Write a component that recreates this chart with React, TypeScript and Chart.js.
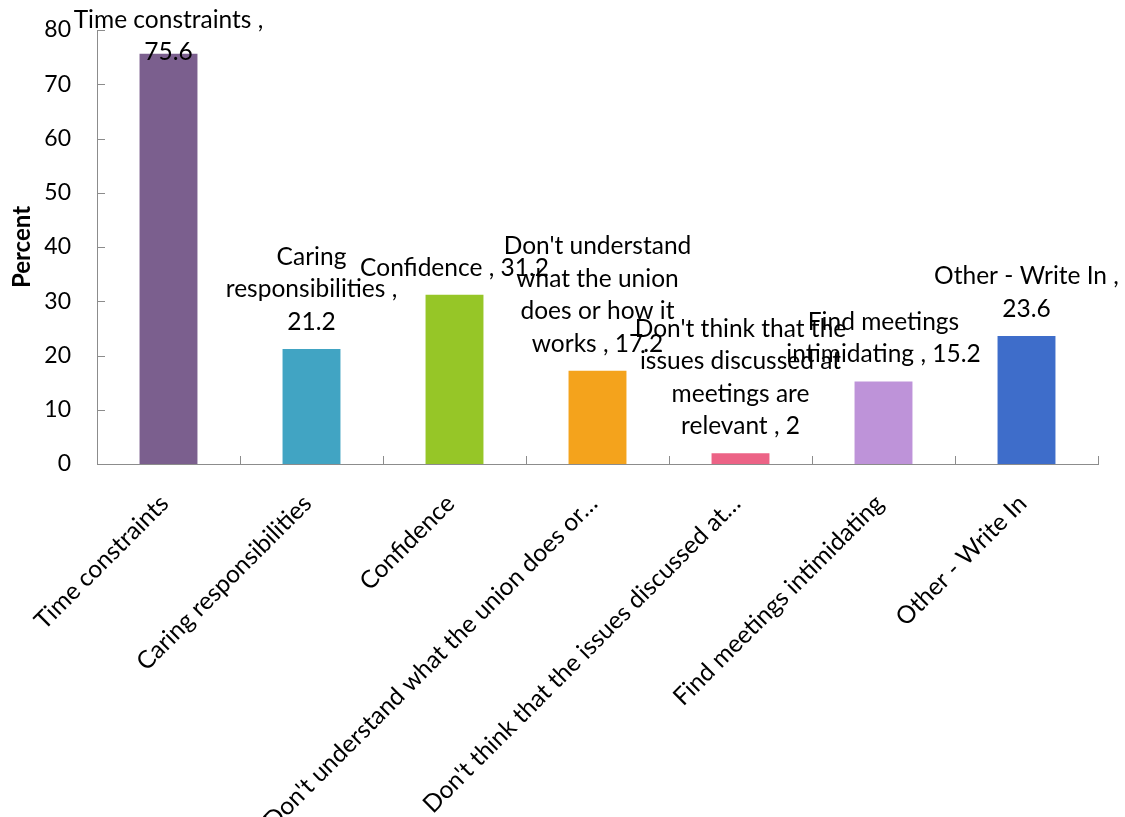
import React, { useEffect, useRef } from "react";
import { Chart, registerables } from "chart.js";

Chart.register(...registerables);

const categories = [
  "Time constraints",
  "Caring responsibilities",
  "Confidence",
  "Don't understand what the union does or how it works",
  "Don't think that the issues discussed at meetings are relevant",
  "Find meetings intimidating",
  "Other - Write In",
];
const tickLabels = [
  "Time constraints",
  "Caring responsibilities",
  "Confidence",
  "Don't understand what the union does or…",
  "Don't think that the issues discussed at…",
  "Find meetings intimidating",
  "Other - Write In",
];
const values = [75.6, 21.2, 31.2, 17.2, 2, 15.2, 23.6];
const barColors = ["#7B5F8E", "#41A4C3", "#96C627", "#F4A31C", "#EC6386", "#BE93D9", "#3E6DCA"];
const dataLabelLines = [
  ["Time constraints ,", "75.6"],
  ["Caring", "responsibilities ,", "21.2"],
  ["Confidence , 31.2"],
  ["Don't understand", "what the union", "does or how it", "works , 17.2"],
  ["Don't think that the", "issues discussed at", "meetings are", "relevant , 2"],
  ["Find meetings", "intimidating , 15.2"],
  ["Other - Write In ,", "23.6"],
];
const yMin = 0;
const yMax = 80;
const yStep = 10;
const yTitle = "Percent";

const FONT = "Lato";
const AXIS_COLOR = "#8C8C8C";

const insideTicks = {
  id: "insideTicks",
  afterDraw(chart: any) {
    const { ctx, chartArea, scales } = chart;
    const xs = scales.x;
    const ys = scales.y;
    ctx.save();
    ctx.strokeStyle = AXIS_COLOR;
    ctx.lineWidth = 1;
    ctx.beginPath();
    ys.ticks.forEach((_t: any, i: number) => {
      const py = Math.round(ys.getPixelForTick(i)) + 0.5;
      ctx.moveTo(chartArea.left, py);
      ctx.lineTo(chartArea.left + 8, py);
    });
    for (let i = 0; i <= categories.length; i++) {
      const px = Math.round(xs.getPixelForValue(i - 0.5)) + 0.5;
      ctx.moveTo(px, chartArea.bottom);
      ctx.lineTo(px, chartArea.bottom - 8);
    }
    ctx.stroke();
    ctx.restore();
  },
};

const barLabels = {
  id: "barLabels",
  afterDraw(chart: any) {
    const { ctx } = chart;
    const meta = chart.getDatasetMeta(0);
    ctx.save();
    ctx.font = `24.5px ${FONT}`;
    ctx.fillStyle = "#000";
    ctx.textAlign = "center";
    ctx.textBaseline = "middle";
    const lh = 32.5;
    meta.data.forEach((bar: any, i: number) => {
      const lines = dataLabelLines[i];
      let first = bar.y - 27 - (lines.length - 1) * lh;
      if (first < 20) first = 20;
      lines.forEach((l, j) => ctx.fillText(l, bar.x, first + j * lh));
    });
    ctx.restore();
  },
};

export default function App() {
  const ref = useRef<HTMLCanvasElement | null>(null);
  useEffect(() => {
    document.body.style.margin = "0";
    const canvas = ref.current!;
    const chart = new Chart(canvas, {
      type: "bar",
      data: {
        labels: categories,
        datasets: [
          {
            data: values,
            backgroundColor: barColors,
            borderWidth: 0,
            barPercentage: 0.405,
            categoryPercentage: 1,
          },
        ],
      },
      options: {
        responsive: false,
        animation: false,
        devicePixelRatio: 1,
        layout: { padding: { top: 30, right: 27, left: 0, bottom: 0 } },
        plugins: {
          legend: { display: false },
          tooltip: { enabled: false },
        },
        scales: {
          x: {
            grid: { display: false, drawTicks: false },
            border: { display: true, color: AXIS_COLOR, width: 1 },
            ticks: {
              autoSkip: false,
              maxRotation: 45,
              minRotation: 45,
              padding: 25,
              labelOffset: -4,
              color: "#000",
              font: { family: FONT, size: 24.5 },
              callback: (_v: any, i: number) => tickLabels[i],
            },
            afterFit: (s: any) => {
              s.height = 817 - 464;
            },
          },
          y: {
            min: yMin,
            max: yMax,
            grid: { display: false, drawTicks: false },
            border: { display: true, color: AXIS_COLOR, width: 1 },
            ticks: {
              stepSize: yStep,
              padding: 26,
              color: "#000",
              font: { family: FONT, size: 23 },
            },
            title: {
              display: true,
              text: yTitle,
              color: "#000",
              font: { family: FONT, size: 24, weight: "bold" },
              padding: { top: 8, bottom: 0 },
            },
            afterFit: (s: any) => {
              s.width = 97;
              s.paddingTop = 0;
              s.paddingBottom = 0;
            },
          },
        },
      },
      plugins: [insideTicks, barLabels],
    });
    return () => chart.destroy();
  }, []);
  return (
    <div style={{ width: 1125, height: 817 }}>
      <canvas ref={ref} width={1125} height={817} style={{ width: 1125, height: 817, display: "block" }} />
    </div>
  );
}
